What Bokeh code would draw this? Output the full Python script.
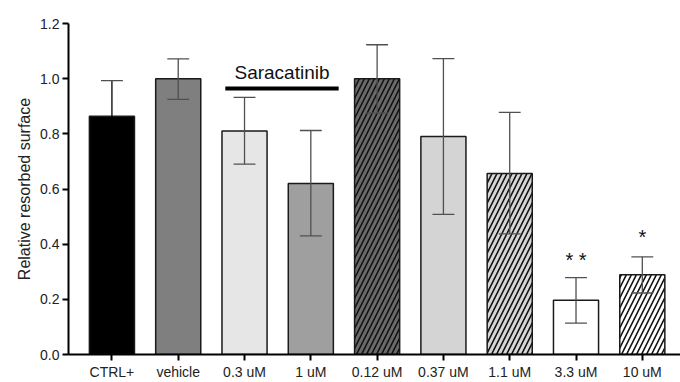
from bokeh.plotting import figure
from bokeh.models import ColumnDataSource, FixedTicker, Range1d
from bokeh.core.properties import value
from bokeh.embed import file_html
from bokeh.resources import INLINE

categories = ["CTRL+", "vehicle", "0.3 uM", "1 uM", "0.12 uM", "0.37 uM", "1.1 uM", "3.3 uM", "10 uM"]
means = [0.864, 1.0, 0.81, 0.62, 1.0, 0.79, 0.656, 0.197, 0.289]
err_low = [0.735, 0.925, 0.69, 0.43, 0.875, 0.508, 0.437, 0.114, 0.223]
err_high = [0.993, 1.072, 0.932, 0.812, 1.123, 1.073, 0.878, 0.279, 0.354]
fills = ["#000000", "#7f7f7f", "#e6e6e6", "#9f9f9f", "#6a6a6a", "#d4d4d4", "#d6d6d6", "#ffffff", "#ffffff"]
hatches = [" ", " ", " ", " ", "/", " ", "/", " ", "/"]
err_colors = ["#000000", "#505050", "#505050", "#505050", "#505050", "#505050", "#505050", "#505050", "#505050"]
stars = ["", "", "", "", "", "", "", "* *", "*"]
star_y = [0, 0, 0, 0, 0, 0, 0, 0.343, 0.425]
group_label = "Saracatinib"
group_span = (1.71, 3.42)
group_line_y = 0.964
group_text_y = 0.985

x = list(range(len(categories)))

p = figure(width=680, height=382, output_backend="svg", toolbar_location=None,
           x_range=Range1d(-0.655, 8.576), y_range=Range1d(0, 1.2),
           min_border_left=68, min_border_right=0, min_border_top=23, min_border_bottom=27)
p.outline_line_color = None
p.grid.visible = False
p.background_fill_color = "white"

src = ColumnDataSource(dict(x=x, top=means, fill=fills, hatch=hatches, lo=err_low, hi=err_high,
                            ec=err_colors))
p.vbar(x="x", top="top", width=0.68, bottom=0, source=src, fill_color="fill",
       line_color="#1a1a1a", line_width=1.5,
       hatch_pattern="hatch", hatch_color="#111111", hatch_scale=10, hatch_weight=1.6)

cap = 0.165
p.segment(x0="x", y0="lo", x1="x", y1="hi", source=src, line_color="ec", line_width=1.3)
p.segment(x0=[i - cap for i in x], y0=err_high, x1=[i + cap for i in x], y1=err_high,
          line_color="#505050", line_width=1.3)
p.segment(x0=[i - cap for i in x], y0=err_low, x1=[i + cap for i in x], y1=err_low,
          line_color=err_colors, line_width=1.3)

star_x = [i for i, s in zip(x, stars) if s]
star_t = [s for s in stars if s]
star_yy = [yv for yv, s in zip(star_y, stars) if s]
p.text(x=star_x, y=star_yy, text=star_t, text_align="center", text_baseline="middle",
       text_font=value("Liberation Sans"), text_font_size="20px", text_color="#111111")

p.segment(x0=[group_span[0]], y0=[group_line_y], x1=[group_span[1]], y1=[group_line_y],
          line_color="black", line_width=4)
p.text(x=[(group_span[0] + group_span[1]) / 2], y=[group_text_y], text=[group_label],
       text_align="center", text_baseline="bottom",
       text_font=value("Liberation Sans"), text_font_size="19px", text_color="#111111")

p.xaxis.ticker = FixedTicker(ticks=x)
p.xaxis.major_label_overrides = {i: c for i, c in enumerate(categories)}
p.yaxis.ticker = FixedTicker(ticks=[0, 0.2, 0.4, 0.6, 0.8, 1.0, 1.2])
p.yaxis.major_label_overrides = {0: "0.0", 0.2: "0.2", 0.4: "0.4", 0.6: "0.6", 0.8: "0.8", 1.0: "1.0", 1.2: "1.2"}
p.yaxis.axis_label = "Relative resorbed surface"
for ax in (p.xaxis, p.yaxis):
    ax.axis_line_width = 2
    ax.axis_line_color = "black"
    ax.major_tick_line_width = 2
    ax.major_tick_line_color = "black"
    ax.major_tick_out = 6
    ax.major_tick_in = 0
    ax.minor_tick_line_color = None
    ax.major_label_text_font = "Liberation Sans"
    ax.major_label_text_color = "#222222"
p.yaxis.major_label_text_font_size = "14px"
p.xaxis.major_label_text_font_size = "14px"
p.xaxis.major_label_standoff = 3
p.yaxis.major_label_standoff = 3
p.yaxis.axis_label_text_font = "Liberation Sans"
p.yaxis.axis_label_text_font_style = "normal"
p.yaxis.axis_label_text_font_size = "16px"
p.yaxis.axis_label_text_color = "#222222"
p.yaxis.axis_label_standoff = 4

open("out.html", "w").write(file_html(p, INLINE))
